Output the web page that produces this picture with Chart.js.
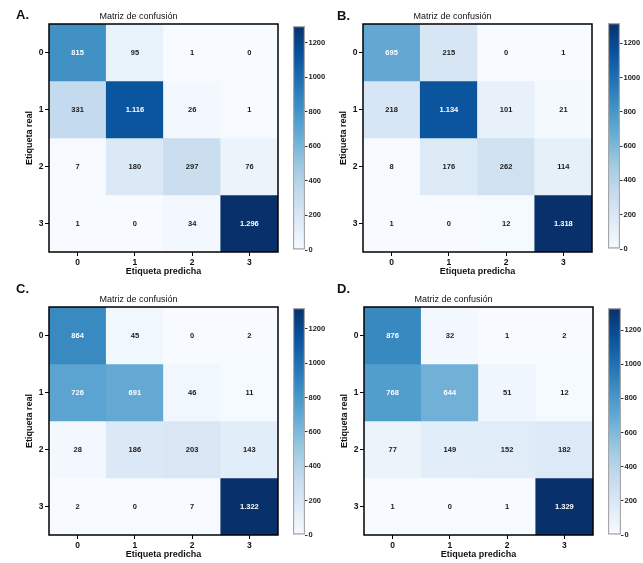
<!DOCTYPE html>
<html lang="es">
<head>
<meta charset="utf-8">
<title>Matrices de confusión</title>
<script src="https://cdn.jsdelivr.net/npm/chart.js@4.4.1/dist/chart.umd.min.js"></script>
<style>
  body { margin: 0; background: #fff; }
  #wrap { position: relative; width: 643px; height: 563px; overflow: hidden; font-family: "Liberation Sans", Arial, sans-serif; }
  #wrap canvas { position: absolute; }
  .letra { position: absolute; font-weight: bold; font-size: 13px; line-height: 13px; color: #111; }
</style>
</head>
<body>
<div id="wrap"></div>
<script>
// === DATOS ===
const etiquetas = ['0', '1', '2', '3'];
const matrizA = [[815, 95, 1, 0], [331, 1116, 26, 1], [7, 180, 297, 76], [1, 0, 34, 1296]];
const matrizB = [[695, 215, 0, 1], [218, 1134, 101, 21], [8, 176, 262, 114], [1, 0, 12, 1318]];
const matrizC = [[864, 45, 0, 2], [726, 691, 46, 11], [28, 186, 203, 143], [2, 0, 7, 1322]];
const matrizD = [[876, 32, 1, 2], [768, 644, 51, 12], [77, 149, 152, 182], [1, 0, 1, 1329]];
const ticksBarra = [0, 200, 400, 600, 800, 1000, 1200];

// paleta "Blues"
const azules = ['#f7fbff', '#deebf7', '#c6dbef', '#9ecae1', '#6baed6', '#4292c6', '#2171b5', '#08519c', '#08306b'];

// === POSICIONES DE CADA PANEL ===
const paneles = [
    { letra: 'A.', matriz: matrizA, arriba: 0,   tituloY: 17,  area: { l: 49,  r: 278, t: 24,  b: 252 }, barra: { l: 293, w: 12, t: 26,  b: 250 }, pos: { x: 16,  y: 8 } },
    { letra: 'B.', matriz: matrizB, arriba: 0,   tituloY: 17,  area: { l: 363, r: 592, t: 24,  b: 252 }, barra: { l: 608, w: 12, t: 23,  b: 249 }, pos: { x: 337, y: 9 } },
    { letra: 'C.', matriz: matrizC, arriba: 280, tituloY: 300, area: { l: 49,  r: 278, t: 307, b: 535 }, barra: { l: 293, w: 12, t: 308, b: 535 }, pos: { x: 16,  y: 282 } },
    { letra: 'D.', matriz: matrizD, arriba: 280, tituloY: 300, area: { l: 364, r: 593, t: 307, b: 535 }, barra: { l: 608, w: 13, t: 308, b: 535 }, pos: { x: 337, y: 282 } }
];

const wrap = document.getElementById('wrap');
const fuente = '"Liberation Sans", Arial, sans-serif';

function hexARgb(h) {
    return [1, 3, 5].map(i => parseInt(h.substr(i, 2), 16));
}

function colorAzul(t) {
    t = Math.max(0, Math.min(1, t));
    const pos = t * (azules.length - 1);
    const i = Math.min(Math.floor(pos), azules.length - 2);
    const f = pos - i;
    const a = hexARgb(azules[i]), b = hexARgb(azules[i + 1]);
    const c = a.map((v, k) => Math.round(v + (b[k] - v) * f));
    return `rgb(${c[0]},${c[1]},${c[2]})`;
}

// 1116 -> "1.116"
function formato(v) {
    return String(v).replace(/\B(?=(\d{3})+(?!\d))/g, '.');
}

// Dibuja los valores dentro de cada celda y el marco
const pluginCeldas = {
    id: 'celdas',
    afterDatasetsDraw(chart) {
        const ctx = chart.ctx;
        const vmax = chart.options.plugins.celdas.vmax;
        ctx.save();
        ctx.font = 'bold 7.5px ' + fuente;
        ctx.textAlign = 'center';
        ctx.textBaseline = 'middle';
        chart.data.datasets.forEach((ds, r) => {
            chart.getDatasetMeta(r).data.forEach((el, c) => {
                const v = ds.valores[c];
                const p = el.getCenterPoint();
                ctx.fillStyle = v / vmax > 0.4 ? '#ffffff' : '#1a1a1a';
                ctx.fillText(formato(v), p.x, p.y + 0.5);
            });
        });
        const a = chart.chartArea;
        ctx.strokeStyle = '#000';
        ctx.lineWidth = 1.5;
        ctx.strokeRect(a.left, a.top, a.right - a.left, a.bottom - a.top);
        ctx.restore();
    }
};

function crearMatriz(p) {
    const a = p.area;
    const canvas = document.createElement('canvas');
    canvas.width = (a.r - a.l) + 100;
    canvas.height = a.b + 28 - p.arriba;
    canvas.style.left = (a.l - 50) + 'px';
    canvas.style.top = p.arriba + 'px';
    wrap.appendChild(canvas);

    const vmax = Math.max(...p.matriz.flat());
    const padTop = p.tituloY - p.arriba - 5.4;
    const padBottom = (a.t - p.arriba) - padTop - 10.8;

    const datasets = p.matriz.map((fila, r) => ({
        label: etiquetas[r],
        data: fila.map(() => [r - 0.5, r + 0.5]),
        valores: fila,
        backgroundColor: fila.map(v => colorAzul(v / vmax)),
        borderWidth: 0,
        barPercentage: 1,
        categoryPercentage: 1,
        grouped: false
    }));

    new Chart(canvas, {
        type: 'bar',
        data: { labels: etiquetas, datasets },
        options: {
            responsive: false,
            animation: false,
            devicePixelRatio: 1,
            layout: { padding: { left: 0, right: 50, top: 0, bottom: 0 } },
            plugins: {
                legend: { display: false },
                tooltip: { enabled: false },
                celdas: { vmax },
                title: {
                    display: true,
                    text: 'Matriz de confusión',
                    color: '#111',
                    font: { family: fuente, size: 9, weight: 'normal', lineHeight: 1.2 },
                    padding: { top: padTop, bottom: padBottom }
                }
            },
            scales: {
                x: {
                    type: 'category',
                    grid: { display: true, drawOnChartArea: false, drawTicks: true, tickLength: 4, color: '#000', lineWidth: 1, offset: false },
                    border: { display: false },
                    ticks: { color: '#111', padding: 1.5, font: { family: fuente, size: 8.5, weight: 'bold' } },
                    title: { display: true, text: 'Etiqueta predicha', color: '#111', font: { family: fuente, size: 9, weight: 'bold', lineHeight: 1.2 }, padding: { top: 0, bottom: 2.6 } },
                    afterFit: s => { s.height = 28; }
                },
                y: {
                    type: 'linear',
                    reverse: true,
                    min: -0.5,
                    max: 3.5,
                    afterBuildTicks: s => { s.ticks = etiquetas.map((_, k) => ({ value: k })); },
                    grid: { display: true, drawOnChartArea: false, drawTicks: true, tickLength: 4, color: '#000', lineWidth: 1 },
                    border: { display: false },
                    ticks: { color: '#111', padding: 1.5, font: { family: fuente, size: 8.5, weight: 'bold' }, callback: v => etiquetas[v] },
                    title: { display: true, text: 'Etiqueta real', color: '#111', font: { family: fuente, size: 9, weight: 'bold', lineHeight: 1.2 }, padding: { top: 25.6, bottom: 0 } },
                    afterFit: s => { s.width = 50; }
                }
            }
        },
        plugins: [pluginCeldas]
    });

    return vmax;
}

function crearBarra(p, vmax) {
    const b = p.barra;
    const canvas = document.createElement('canvas');
    canvas.width = b.w + 30;
    canvas.height = (b.b - b.t) + 12;
    canvas.style.left = b.l + 'px';
    canvas.style.top = (b.t - 6) + 'px';
    wrap.appendChild(canvas);

    new Chart(canvas, {
        type: 'bar',
        data: {
            labels: [''],
            datasets: [{
                data: [[0, vmax]],
                backgroundColor: ctx => {
                    const a = ctx.chart.chartArea;
                    if (!a) return azules[0];
                    const g = ctx.chart.ctx.createLinearGradient(0, a.bottom, 0, a.top);
                    azules.forEach((c, i) => g.addColorStop(i / (azules.length - 1), c));
                    return g;
                },
                borderColor: '#a6a6a6',
                borderWidth: 1.5,
                borderSkipped: false,
                barPercentage: 1,
                categoryPercentage: 1
            }]
        },
        options: {
            responsive: false,
            animation: false,
            devicePixelRatio: 1,
            layout: { padding: { left: 0, right: 0, top: 6, bottom: 6 } },
            plugins: { legend: { display: false }, tooltip: { enabled: false } },
            scales: {
                x: { display: false },
                y: {
                    position: 'right',
                    min: 0,
                    max: vmax,
                    afterBuildTicks: s => { s.ticks = ticksBarra.map(v => ({ value: v })); },
                    grid: { display: true, drawOnChartArea: false, drawTicks: true, tickLength: 2.5, color: '#333' },
                    border: { display: false },
                    ticks: { color: '#222', padding: 1, font: { family: fuente, size: 7.5, weight: 'bold' }, callback: v => String(v) },
                    afterFit: s => { s.width = 30; }
                }
            }
        }
    });
}

paneles.forEach(p => {
    const vmax = crearMatriz(p);
    crearBarra(p, vmax);
    const div = document.createElement('div');
    div.className = 'letra';
    div.textContent = p.letra;
    div.style.left = p.pos.x + 'px';
    div.style.top = p.pos.y + 'px';
    wrap.appendChild(div);
});
</script>
</body>
</html>
